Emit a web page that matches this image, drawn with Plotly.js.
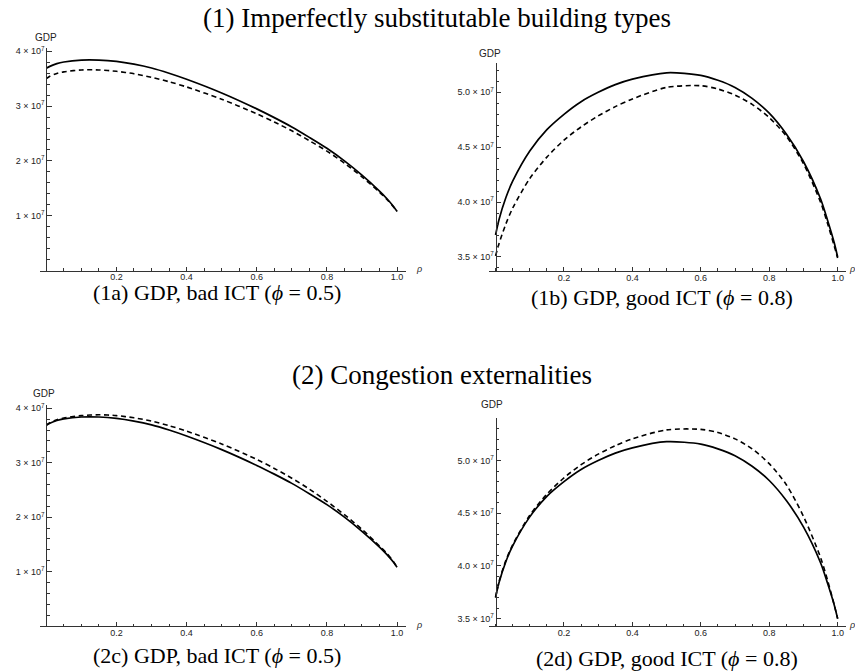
<!DOCTYPE html>
<html><head><meta charset="utf-8">
<script src="https://cdn.plot.ly/plotly-3.0.1.min.js"></script>
<style>html,body{margin:0;padding:0;background:#fff}</style>
</head><body><div id="chart" style="width:855px;height:671px"></div>
<script>
// rho grid shared by all panels
const rho = [0, 0.01, 0.03, 0.05, 0.1, 0.15, 0.2, 0.25, 0.3, 0.35, 0.4, 0.5, 0.6, 0.65, 0.7, 0.75, 0.8, 0.85, 0.9, 0.95, 0.97, 0.99, 1.0];
// GDP values in units of 1e7 (solid = baseline, dashed = variant)
const gdpBadSolid   = [3.69, 3.725, 3.775, 3.805, 3.84, 3.84, 3.815, 3.765, 3.695, 3.60, 3.49, 3.24, 2.95, 2.79, 2.62, 2.43, 2.23, 2.00, 1.74, 1.45, 1.32, 1.17, 1.08];
const gdp1aDashed   = [3.50, 3.545, 3.595, 3.625, 3.66, 3.66, 3.635, 3.59, 3.525, 3.445, 3.35, 3.125, 2.86, 2.71, 2.55, 2.37, 2.18, 1.96, 1.71, 1.43, 1.305, 1.16, 1.08];
const gdpGoodSolid  = [3.70, 3.84, 4.04, 4.19, 4.465, 4.66, 4.80, 4.915, 5.00, 5.07, 5.12, 5.178, 5.155, 5.11, 5.045, 4.945, 4.81, 4.62, 4.37, 4.03, 3.84, 3.63, 3.50];
const gdp1bDashed   = [3.51, 3.62, 3.80, 3.945, 4.215, 4.41, 4.565, 4.685, 4.785, 4.87, 4.94, 5.045, 5.06, 5.03, 4.975, 4.89, 4.77, 4.60, 4.35, 4.00, 3.81, 3.60, 3.49];
const gdp2cDashed   = [3.69, 3.735, 3.79, 3.82, 3.865, 3.88, 3.865, 3.825, 3.765, 3.68, 3.58, 3.345, 3.06, 2.895, 2.715, 2.515, 2.29, 2.045, 1.775, 1.47, 1.34, 1.18, 1.08];
const gdp2dDashed   = [3.70, 3.85, 4.05, 4.20, 4.48, 4.68, 4.835, 4.96, 5.06, 5.14, 5.205, 5.29, 5.295, 5.265, 5.205, 5.11, 4.97, 4.77, 4.47, 4.08, 3.87, 3.63, 3.50];

const xTickVals = [0.2, 0.4, 0.6, 0.8, 1.0];
const xTickText = ["0.2", "0.4", "0.6", "0.8", "1.0"];
const yTickValsBad = [1, 2, 3, 4];
const yTickTextBad = ["1 × 10<sup>7</sup>", "2 × 10<sup>7</sup>", "3 × 10<sup>7</sup>", "4 × 10<sup>7</sup>"];
const yTickValsGood = [3.5, 4.0, 4.5, 5.0];
const yTickTextGood = ["3.5 × 10<sup>7</sup>", "4.0 × 10<sup>7</sup>", "4.5 × 10<sup>7</sup>", "5.0 × 10<sup>7</sup>"];

const panelTitles = ["(1) Imperfectly substitutable building types", "(2) Congestion externalities"];
const captions = ["(1a) GDP, bad ICT (<i>ϕ</i> = 0.5)", "(1b) GDP, good ICT (<i>ϕ</i> = 0.8)",
                  "(2c) GDP, bad ICT (<i>ϕ</i> = 0.5)", "(2d) GDP, good ICT (<i>ϕ</i> = 0.8)"];

const scale = 1e7;
const toAbs = a => a.map(v => v * scale);

function pair(sol, dash, xa, ya) {
  return [
    {x: rho, y: toAbs(sol), xaxis: xa, yaxis: ya, mode: 'lines', line: {color: '#000', width: 1.7, shape: 'spline', smoothing: 0.8}, hoverinfo: 'skip'},
    {x: rho, y: toAbs(dash), xaxis: xa, yaxis: ya, mode: 'lines', line: {color: '#000', width: 1.6, dash: '5px,3.5px', shape: 'spline', smoothing: 0.8}, hoverinfo: 'skip'}
  ];
}
const data = [].concat(
  pair(gdpBadSolid, gdp1aDashed, 'x', 'y'),
  pair(gdpGoodSolid, gdp1bDashed, 'x2', 'y2'),
  pair(gdpBadSolid, gdp2cDashed, 'x3', 'y3'),
  pair(gdpGoodSolid, gdp2dDashed, 'x4', 'y4')
);

const W = 855, H = 671;
const px = v => v / W, py = v => 1 - v / H;
const tickFont = {family: 'Liberation Sans, Arial, sans-serif', size: 9, color: '#222'};
const axisCol = '#333';

function xAx(d0, d1, anchor) {
  return {domain: [px(d0), px(d1)], range: [-0.018, 1.025], anchor: anchor,
    showline: true, linecolor: axisCol, linewidth: 1, showgrid: false, zeroline: false,
    tickmode: 'array', tickvals: xTickVals, ticktext: xTickText, ticklabelstandoff: -2,
    ticks: 'inside', ticklen: 4, tickcolor: axisCol, tickwidth: 1, tickfont: tickFont,
    minor: {dtick: 0.05, tick0: 0, ticks: 'inside', ticklen: 2.5, tickcolor: axisCol, showgrid: false},
    fixedrange: true};
}
function yAx(top, bottom, r, vals, txt, mdt, pos) {
  return {domain: [py(bottom), py(top)], range: r, anchor: 'free', position: px(pos),
    showline: true, linecolor: axisCol, linewidth: 1, showgrid: false, zeroline: false,
    tickmode: 'array', tickvals: toAbs(vals), ticktext: txt,
    ticks: 'inside', ticklen: 4.5, tickcolor: axisCol, tickwidth: 1, tickfont: tickFont,
    minor: {dtick: mdt, tick0: 0, ticks: 'inside', ticklen: 2.5, tickcolor: axisCol, showgrid: false},
    fixedrange: true};
}

const serif = 'Liberation Serif, Times New Roman, serif';
const sansLab = {family: 'Liberation Sans, Arial, sans-serif', size: 10, color: '#222'};
function ann(text, x, y, font, xanchor) {
  return {text: text, x: px(x), y: py(y), xref: 'paper', yref: 'paper', showarrow: false,
    xanchor: xanchor || 'center', yanchor: 'middle', font: font};
}
const titleFont = {family: serif, size: 27, color: '#000'};
const capFont = {family: serif, size: 22, color: '#000'};
const rhoFont = {family: 'Liberation Sans, Arial, sans-serif', size: 9, color: '#222'};

const layout = {
  width: W, height: H, margin: {l: 0, r: 0, t: 0, b: 0},
  paper_bgcolor: '#fff', plot_bgcolor: 'rgba(0,0,0,0)', showlegend: false,
  xaxis:  xAx(40, 405.8, 'y'),
  xaxis2: xAx(489.4, 846.2, 'y2'),
  xaxis3: xAx(40, 405.8, 'y3'),
  xaxis4: xAx(489.4, 846.2, 'y4'),
  yaxis:  yAx(48, 270.6, [0, 4.06e7], yTickValsBad, yTickTextBad, 2e6, 46.3),
  yaxis2: yAx(62.7, 270.7, [3.375e7, 5.27e7], yTickValsGood, yTickTextGood, 1e6, 495.6),
  yaxis3: yAx(405, 626, [0, 4.06e7], yTickValsBad, yTickTextBad, 2e6, 46.3),
  yaxis4: yAx(418.3, 626, [3.43e7, 5.40e7], yTickValsGood, yTickTextGood, 1e6, 495.6),
  annotations: [
    ann(panelTitles[0], 437, 18, titleFont),
    ann(panelTitles[1], 442, 375, titleFont),
    ann(captions[0], 217, 292, capFont),
    ann(captions[1], 662, 297, capFont),
    ann(captions[2], 217, 655, capFont),
    ann(captions[3], 667, 658, capFont),
    ann('GDP', 46, 37, sansLab),
    ann('GDP', 490, 53.5, sansLab),
    ann('GDP', 44, 393.5, sansLab),
    ann('GDP', 492, 405, sansLab),
    ann('<i>ρ</i>', 414, 269, rhoFont, 'left'),
    ann('<i>ρ</i>', 847, 269, rhoFont, 'left'),
    ann('<i>ρ</i>', 414, 625, rhoFont, 'left'),
    ann('<i>ρ</i>', 847, 625, rhoFont, 'left')
  ]
};

Plotly.newPlot('chart', data, layout, {staticPlot: true, displayModeBar: false});
</script></body></html>
